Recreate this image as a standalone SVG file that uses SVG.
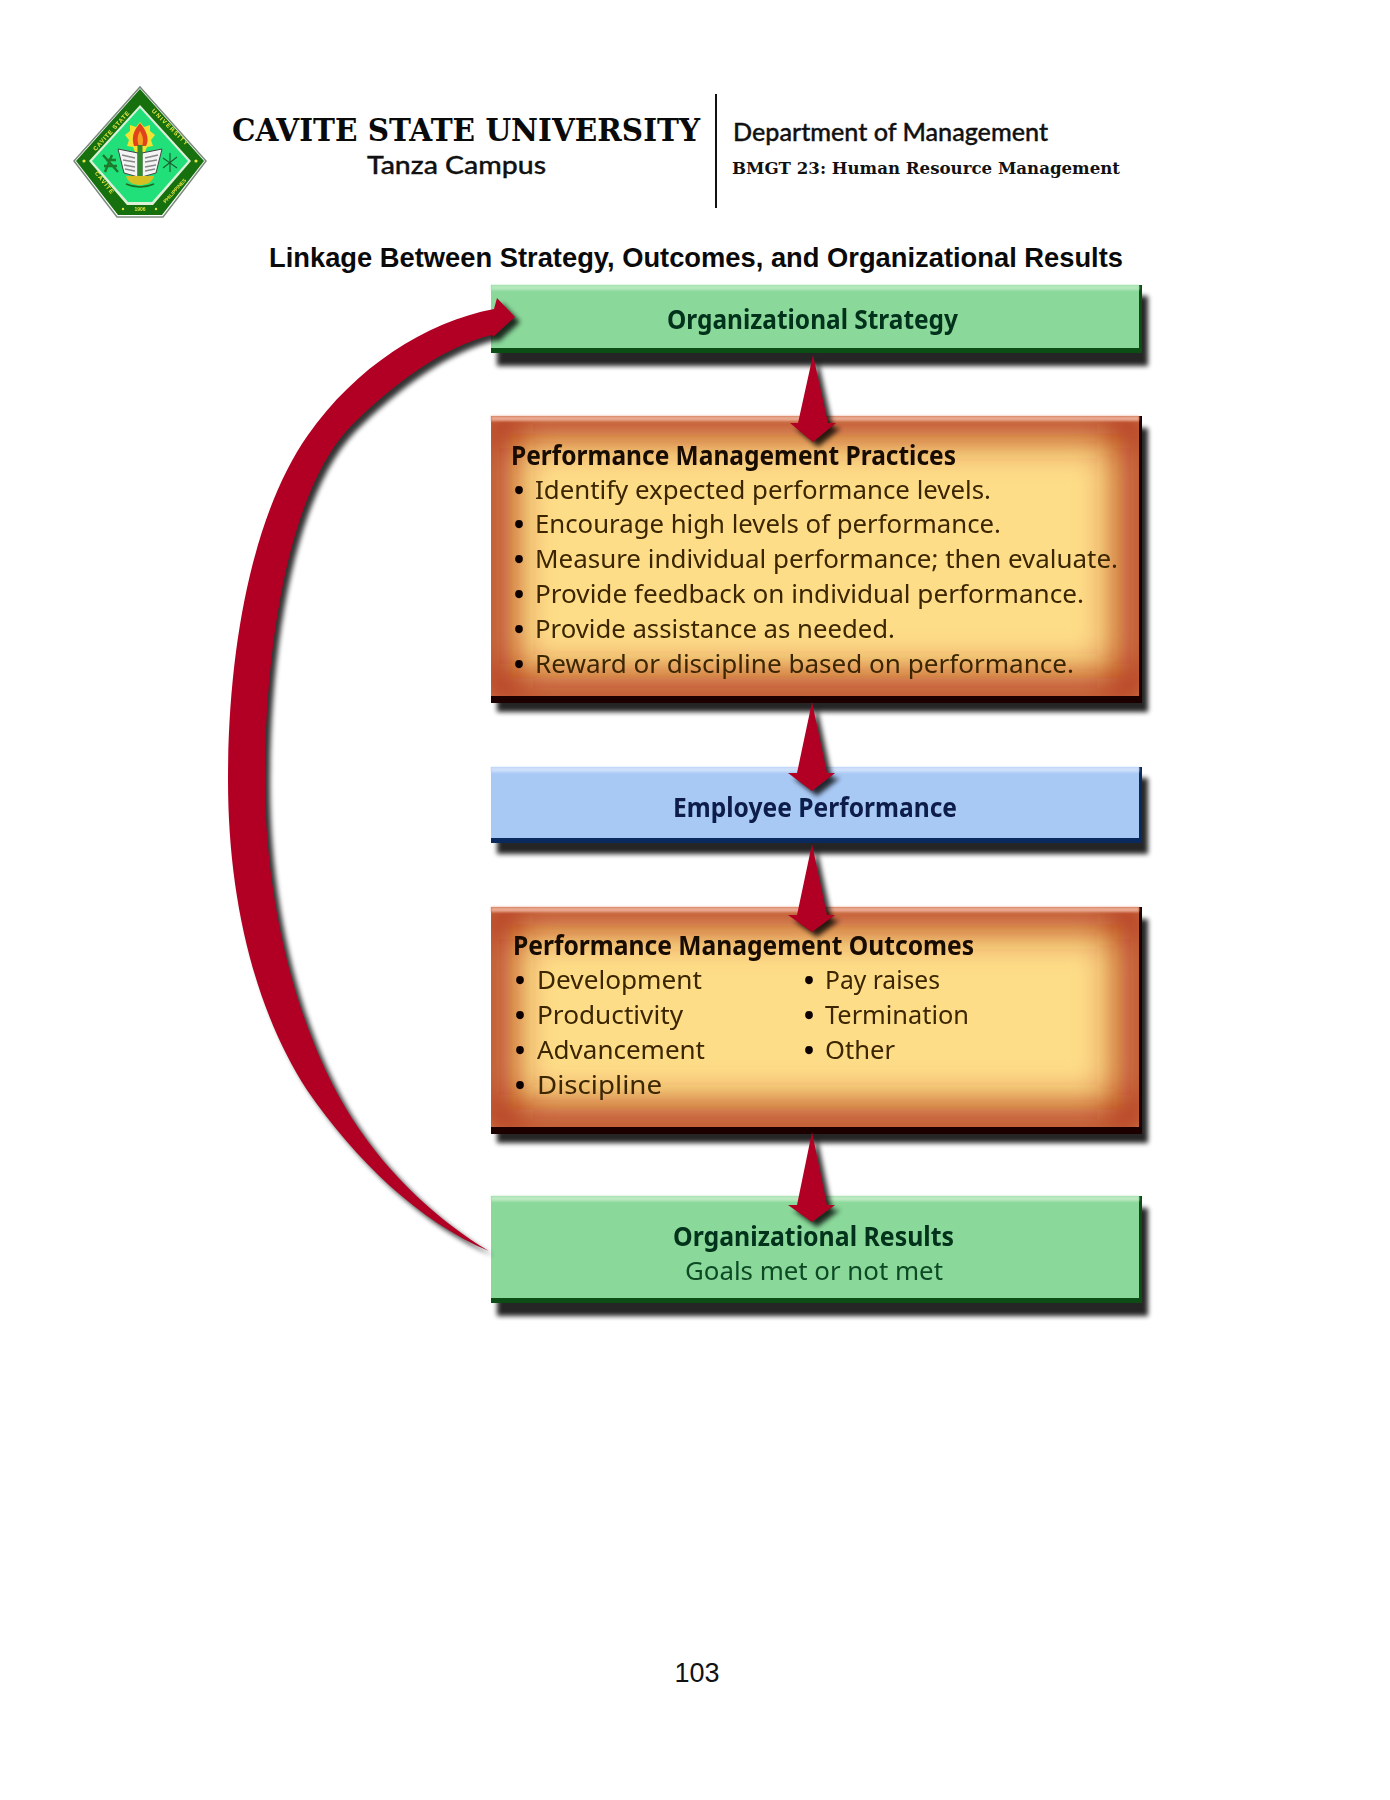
<svg xmlns="http://www.w3.org/2000/svg" width="1390" height="1800" viewBox="0 0 1390 1800">
<defs>
<filter id="soft" x="-5%" y="-20%" width="110%" height="140%"><feGaussianBlur stdDeviation="0.55"/></filter>
<filter id="softer" x="-10%" y="-10%" width="120%" height="120%"><feGaussianBlur stdDeviation="0.5"/></filter>
<filter id="shadow" x="-10%" y="-30%" width="120%" height="160%"><feGaussianBlur stdDeviation="2.8"/></filter>
<filter id="ashadow" x="-40%" y="-20%" width="180%" height="140%"><feGaussianBlur stdDeviation="2.6"/></filter>
<filter id="glow" x="-30%" y="-30%" width="160%" height="160%"><feGaussianBlur stdDeviation="20"/></filter>
<filter id="edge" x="-5%" y="-30%" width="110%" height="160%"><feGaussianBlur stdDeviation="1"/></filter>
<clipPath id="c2"><rect x="491" y="416" width="648" height="280"/></clipPath>
<clipPath id="c4"><rect x="491" y="907" width="648" height="220"/></clipPath>
</defs>
<style>
text{font-family:"Noto Sans","Open Sans",sans-serif}
.hd{font-size:27px;font-weight:700;fill:#170800}
.it{font-size:26px;fill:#3a2500}
.bu{font-size:24px;fill:#0a0500;stroke:#0a0500;stroke-width:2.4;text-anchor:middle}
.gh{font-size:27px;font-weight:700;fill:#05301a}
.gi{font-size:26px;fill:#0c4a24}
.bh{font-size:27px;font-weight:700;fill:#0a1c4a}
.sh{fill:#000;opacity:.85;filter:url(#shadow)}
.ar{fill:#b20024}
.ars{fill:#000;opacity:.8;filter:url(#ashadow)}
.lt{font-family:"Liberation Sans",sans-serif;font-size:6px;font-weight:700;fill:#e6e640;text-anchor:middle}
</style>
<rect width="1390" height="1800" fill="#fff"/>

<g id="logo" filter="url(#softer)">
<polygon points="140,87 206,161 163,217 117,217 74,161" fill="#fff" stroke="#7a8a7a" stroke-width="1.5"/>
<polygon points="140,89 204,161 162,215 118,215 76,161" fill="#14700f"/>
<polygon points="140,105 191,161 153,205 127,205 89,161" fill="#dff0d8"/>
<polygon points="140,108 188,161 152,202 128,202 92,161" fill="#22e079"/>
<polygon points="140,122 144,127 150,125 150,131 155,135 151,140 153,146 147,147 145,152 135,152 133,147 127,146 129,140 125,135 130,131 130,125 136,127" fill="#f4e230"/>
<path d="M140,123 C134,130 131,137 134,146 H146 C150,139 146,130 140,123Z" fill="#e0431a"/>
<path d="M140,131 C137,136 137,141 139,146 H142 C144,141 143,136 140,131Z" fill="#f4a020"/>
<polygon points="118,149 138,153 138,177 124,173" fill="#f4f4f4" stroke="#444" stroke-width="1"/>
<polygon points="162,149 142,153 142,177 156,173" fill="#f4f4f4" stroke="#444" stroke-width="1"/>
<path d="M122,155 L135,158 M123,160 L135,162 M124,165 L135,167 M125,169 L135,171 M158,155 L145,158 M157,160 L145,162 M156,165 L145,167 M155,169 L145,171" stroke="#888" stroke-width="1.4"/>
<rect x="137.5" y="145" width="5" height="31" fill="#2f8a2a"/>
<path d="M126,176 H154 C152,183 146,185 140,185 C134,185 128,183 126,176Z" fill="#d4c020"/>
<path d="M126,184 Q140,190 154,184" fill="none" stroke="#1a6a1a" stroke-width="1.5"/>
<path d="M103,155 L118,172 M112,155 L105,172 M106,160 L116,160 M104,166 L117,166" stroke="#1a7a2a" stroke-width="2.4" fill="none"/>
<path d="M170,153 L170,172 M163,158 L177,168 M177,157 L163,168" stroke="#1c5a30" stroke-width="1.1" fill="none"/>
<circle cx="84" cy="161" r="1.6" fill="#e6e640"/><circle cx="196" cy="161" r="1.6" fill="#e6e640"/>
<circle cx="123" cy="209" r="1.2" fill="#e6e640"/><circle cx="156" cy="209" r="1.2" fill="#e6e640"/>
<text class="lt" transform="translate(113,132) rotate(-48)" letter-spacing=".8">CAVITE STATE</text>
<text class="lt" transform="translate(169,129) rotate(45)" letter-spacing="1.4">UNIVERSITY</text>
<text class="lt" transform="translate(103,184) rotate(52)" letter-spacing="1">CAVITE</text>
<text class="lt" transform="translate(176,192) rotate(-48)" style="font-size:5px">PHILIPPINES</text>
<text class="lt" x="140" y="211" style="font-size:5px">1906</text>
</g>

<g id="header">
<text x="232" y="141" font-size="31" font-weight="700" textLength="468" lengthAdjust="spacingAndGlyphs" style="font-family:'DejaVu Serif',serif;fill:#0a0a0a">CAVITE STATE UNIVERSITY</text>
<text x="367" y="174" font-size="25" font-weight="500" textLength="179" lengthAdjust="spacingAndGlyphs" style="font-family:Lato,sans-serif;fill:#111;stroke:#111;stroke-width:.35">Tanza Campus</text>
<line x1="716" y1="94" x2="716" y2="208" stroke="#111" stroke-width="2"/>
<text x="733" y="141" font-size="24" font-weight="500" textLength="315" lengthAdjust="spacingAndGlyphs" style="font-family:Lato,sans-serif;fill:#111;stroke:#111;stroke-width:.35">Department of Management</text>
<text x="732" y="174" font-size="17" font-weight="700" textLength="388" lengthAdjust="spacingAndGlyphs" style="font-family:'DejaVu Serif',serif;fill:#111">BMGT 23: Human Resource Management</text>
<text x="269" y="267" font-size="27.5" font-weight="700" textLength="854" lengthAdjust="spacingAndGlyphs" style="font-family:'Liberation Sans',sans-serif;fill:#0a0a0a">Linkage Between Strategy, Outcomes, and Organizational Results</text>
</g>

<g id="node-strategy">
<rect class="sh" x="497" y="296" width="651" height="70"/>
<rect x="491" y="285" width="651" height="68" fill="#0b4d14"/>
<rect x="491" y="285" width="648" height="63" fill="#8ad89a"/>
<rect x="491" y="285" width="648" height="5" fill="#b6e8bd" filter="url(#edge)"/>
<text class="gh" x="667" y="329" textLength="291" lengthAdjust="spacingAndGlyphs" filter="url(#soft)">Organizational Strategy</text>
</g>

<g id="node-practices">
<rect class="sh" x="497" y="428" width="651" height="284"/>
<rect x="491" y="416" width="651" height="287" fill="#1c0000"/>
<rect x="491" y="416" width="648" height="280" fill="#fedd88"/>
<g clip-path="url(#c2)"><rect x="491" y="416" width="648" height="280" fill="none" stroke="#a82208" stroke-width="38" filter="url(#glow)"/></g>
<rect x="491" y="416" width="648" height="5" fill="#e9a890" filter="url(#edge)"/>
<g filter="url(#soft)">
<text class="hd" x="511" y="465" textLength="445" lengthAdjust="spacingAndGlyphs">Performance Management Practices</text>
<text class="bu" x="519" y="499">•</text><text class="it" x="535" y="499" textLength="456" lengthAdjust="spacingAndGlyphs">Identify expected performance levels.</text>
<text class="bu" x="519" y="533">•</text><text class="it" x="535" y="533" textLength="466" lengthAdjust="spacingAndGlyphs">Encourage high levels of performance.</text>
<text class="bu" x="519" y="568">•</text><text class="it" x="535" y="568" textLength="583" lengthAdjust="spacingAndGlyphs">Measure individual performance; then evaluate.</text>
<text class="bu" x="519" y="603">•</text><text class="it" x="535" y="603" textLength="549" lengthAdjust="spacingAndGlyphs">Provide feedback on individual performance.</text>
<text class="bu" x="519" y="638">•</text><text class="it" x="535" y="638" textLength="360" lengthAdjust="spacingAndGlyphs">Provide assistance as needed.</text>
<text class="bu" x="519" y="673">•</text><text class="it" x="535" y="673" textLength="539" lengthAdjust="spacingAndGlyphs">Reward or discipline based on performance.</text>
</g>
</g>

<g id="node-performance">
<rect class="sh" x="497" y="778" width="651" height="76"/>
<rect x="491" y="767" width="651" height="76" fill="#0a2a5e"/>
<rect x="491" y="767" width="648" height="71" fill="#a9c9f5"/>
<rect x="491" y="767" width="648" height="5" fill="#cfe0fa" filter="url(#edge)"/>
<text class="bh" x="673" y="817" textLength="284" lengthAdjust="spacingAndGlyphs" filter="url(#soft)">Employee Performance</text>
</g>

<g id="node-outcomes">
<rect class="sh" x="497" y="919" width="651" height="224"/>
<rect x="491" y="907" width="651" height="227" fill="#1c0000"/>
<rect x="491" y="907" width="648" height="220" fill="#fedd88"/>
<g clip-path="url(#c4)"><rect x="491" y="907" width="648" height="220" fill="none" stroke="#a82208" stroke-width="38" filter="url(#glow)"/></g>
<rect x="491" y="907" width="648" height="5" fill="#e9a890" filter="url(#edge)"/>
<g filter="url(#soft)">
<text class="hd" x="513" y="955" textLength="461" lengthAdjust="spacingAndGlyphs">Performance Management Outcomes</text>
<text class="bu" x="520" y="989">•</text><text class="it" x="537" y="989" textLength="165" lengthAdjust="spacingAndGlyphs">Development</text>
<text class="bu" x="520" y="1024">•</text><text class="it" x="537" y="1024" textLength="146" lengthAdjust="spacingAndGlyphs">Productivity</text>
<text class="bu" x="520" y="1059">•</text><text class="it" x="537" y="1059" textLength="168" lengthAdjust="spacingAndGlyphs">Advancement</text>
<text class="bu" x="520" y="1094">•</text><text class="it" x="537" y="1094" textLength="125" lengthAdjust="spacingAndGlyphs">Discipline</text>
<text class="bu" x="809" y="989">•</text><text class="it" x="825" y="989" textLength="115" lengthAdjust="spacingAndGlyphs">Pay raises</text>
<text class="bu" x="809" y="1024">•</text><text class="it" x="825" y="1024" textLength="144" lengthAdjust="spacingAndGlyphs">Termination</text>
<text class="bu" x="809" y="1059">•</text><text class="it" x="825" y="1059" textLength="70" lengthAdjust="spacingAndGlyphs">Other</text>
</g>
</g>

<g id="node-results">
<rect class="sh" x="497" y="1208" width="651" height="108"/>
<rect x="491" y="1196" width="651" height="107" fill="#0b4d14"/>
<rect x="491" y="1196" width="648" height="102" fill="#8ad89a"/>
<rect x="491" y="1196" width="648" height="5" fill="#bdeac2" filter="url(#edge)"/>
<g filter="url(#soft)">
<text class="gh" x="673" y="1246" textLength="281" lengthAdjust="spacingAndGlyphs">Organizational Results</text>
<text class="gi" x="685" y="1280" textLength="258" lengthAdjust="spacingAndGlyphs">Goals met or not met</text>
</g>
</g>

<g id="connectors">
<path class="ars" transform="translate(5,5)" d="M489,1251 C420,1222 355,1160 307,1090 C255,1010 228,900 228,780 C228,640 255,510 308,435 C355,368 425,322 494,309 L497,298 L515,317 L493,337 L492,335 C445,346 395,382 350,427 C290,490 265,640 265,780 C265,900 295,1030 353,1120 C390,1177 440,1222 489,1251Z"/>
<path class="ar" d="M489,1251 C420,1222 355,1160 307,1090 C255,1010 228,900 228,780 C228,640 255,510 308,435 C355,368 425,322 494,309 L497,298 L515,317 L493,337 L492,335 C445,346 395,382 350,427 C290,490 265,640 265,780 C265,900 295,1030 353,1120 C390,1177 440,1222 489,1251Z"/>
<polygon class="ars" transform="translate(5,5)" points="813,355 828,423 836,423 813,442 790,423 798,423"/>
<polygon class="ar" points="813,355 828,423 836,423 813,442 790,423 798,423"/>
<polygon class="ars" transform="translate(5,5)" points="812,702 827,773 835,773 812,791 788,773 797,773"/>
<polygon class="ar" points="812,702 827,773 835,773 812,791 788,773 797,773"/>
<polygon class="ars" transform="translate(5,5)" points="812,844 827,915 835,915 812,932 788,915 797,915"/>
<polygon class="ar" points="812,844 827,915 835,915 812,932 788,915 797,915"/>
<polygon class="ars" transform="translate(5,5)" points="812,1132 827,1205 835,1205 812,1222 788,1205 797,1205"/>
<polygon class="ar" points="812,1132 827,1205 835,1205 812,1222 788,1205 797,1205"/>
</g>

<text id="page-number" x="697" y="1682" font-size="27" text-anchor="middle" style="font-family:'Liberation Sans',sans-serif;fill:#111">103</text>
</svg>
